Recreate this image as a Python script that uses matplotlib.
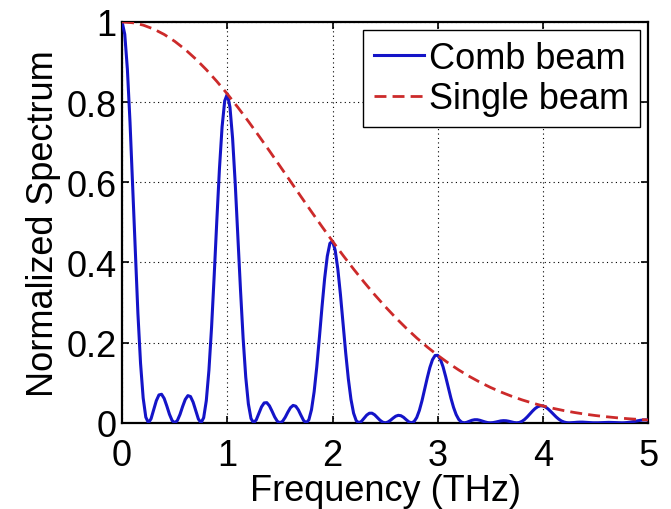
import numpy as np
import matplotlib
matplotlib.use("Agg")
import matplotlib.pyplot as plt

# comb beam spectrum, sampled every 0.025 THz from 0 to 5 THz
comb_values = [
    1.0, 0.9694, 0.8820, 0.7498, 0.5908, 0.4255, 0.2731, 0.1489, 0.0620, 0.0141,
    0.0, 0.0101, 0.0324, 0.0551, 0.0695, 0.0712, 0.0606, 0.0418, 0.0212, 0.0057,
    0.0, 0.0057, 0.0208, 0.0406, 0.0582, 0.0678, 0.0655, 0.0514, 0.0299, 0.0093,
    0.0, 0.0126, 0.0551, 0.1309, 0.2377, 0.3667, 0.5043, 0.6337, 0.7380, 0.8031,
    0.8204, 0.7874, 0.7094, 0.5971, 0.4659, 0.3322, 0.2111, 0.1140, 0.0470, 0.0106,
    0.0, 0.0075, 0.0236, 0.0398, 0.0496, 0.0503, 0.0424, 0.0290, 0.0146, 0.0039,
    0.0, 0.0038, 0.0137, 0.0265, 0.0377, 0.0434, 0.0415, 0.0323, 0.0186, 0.0057,
    0.0, 0.0076, 0.0329, 0.0775, 0.1393, 0.2128, 0.2897, 0.3604, 0.4156, 0.4479,
    0.4529, 0.4305, 0.3839, 0.3200, 0.2472, 0.1745, 0.1098, 0.0587, 0.0240, 0.0053,
    0.0, 0.0037, 0.0116, 0.0193, 0.0239, 0.0240, 0.0200, 0.0135, 0.0067, 0.0018,
    0.0, 0.0017, 0.0061, 0.0116, 0.0164, 0.0187, 0.0177, 0.0137, 0.0078, 0.0024,
    0.0, 0.0031, 0.0132, 0.0308, 0.0549, 0.0831, 0.1119, 0.1380, 0.1575, 0.1680,
    0.1683, 0.1584, 0.1399, 0.1154, 0.0883, 0.0617, 0.0385, 0.0204, 0.0082, 0.0018,
    0.0, 0.0012, 0.0038, 0.0063, 0.0077, 0.0077, 0.0063, 0.0042, 0.0021, 0.0005,
    0.0, 0.0005, 0.0018, 0.0034, 0.0048, 0.0054, 0.0051, 0.0039, 0.0022, 0.0007,
    0.0, 0.0008, 0.0036, 0.0083, 0.0146, 0.0218, 0.0291, 0.0355, 0.0401, 0.0425,
    0.0421, 0.0393, 0.0343, 0.0280, 0.0213, 0.0147, 0.0091, 0.0047, 0.0019, 0.0004,
    0.0, 0.0003, 0.0008, 0.0014, 0.0017, 0.0017, 0.0014, 0.0009, 0.0004, 0.0001,
    0.0, 0.0001, 0.0004, 0.0007, 0.0010, 0.0011, 0.0010, 0.0007, 0.0004, 0.0001,
    0.0, 0.0002, 0.0007, 0.0015, 0.0026, 0.0038, 0.0051, 0.0062, 0.0069, 0.0072,
    0.0071,
]
comb_freq = np.linspace(0, 5, len(comb_values))

# single beam spectrum, every 0.1 THz
single_values = [
    1.0, 0.9980, 0.9921, 0.9823, 0.9688, 0.9517, 0.9312, 0.9075, 0.8810, 0.8518,
    0.8204, 0.7870, 0.7520, 0.7156, 0.6784, 0.6405, 0.6024, 0.5643, 0.5265, 0.4893,
    0.4529, 0.4176, 0.3835, 0.3508, 0.3196, 0.2901, 0.2622, 0.2361, 0.2117, 0.1891,
    0.1683, 0.1492, 0.1317, 0.1158, 0.1014, 0.0884, 0.0768, 0.0665, 0.0573, 0.0492,
    0.0421, 0.0359, 0.0304, 0.0257, 0.0216, 0.0181, 0.0152, 0.0126, 0.0104, 0.0086,
    0.0071,
]
single_freq = np.linspace(0, 5, len(single_values))

x_ticks = [0, 1, 2, 3, 4, 5]
y_ticks = [0, 0.2, 0.4, 0.6, 0.8, 1.0]
y_tick_labels = ["0", "0.2", "0.4", "0.6", "0.8", "1"]

plt.rcParams["font.family"] = ["Liberation Sans", "DejaVu Sans"]

fig = plt.figure(figsize=(6.71, 5.10), dpi=100)
ax = fig.add_axes([0.182, 0.169, 0.784, 0.786])

ax.plot(comb_freq, comb_values, color="#1414c8", lw=2.2, label="Comb beam", zorder=3)
ax.plot(single_freq, single_values, color="#cc2a2a", lw=2.0, linestyle=(0, (4.3, 2.2)),
        label="Single beam", zorder=4)

ax.set_xlim(0, 5)
ax.set_ylim(0, 1)
ax.set_xticks(x_ticks)
ax.set_yticks(y_ticks)
ax.set_yticklabels(y_tick_labels)
ax.grid(True, color="black", linestyle=(0, (1, 3)), lw=0.8)
ax.tick_params(direction="in", length=5, width=1.2, top=True, right=True,
               labelsize=26, pad=4)
ax.tick_params(axis="x", pad=11)
for sp in ax.spines.values():
    sp.set_linewidth(1.6)

ax.set_xlabel("Frequency (THz)", fontsize=26, labelpad=0)
ax.set_ylabel("Normalized Spectrum", fontsize=26, labelpad=4)

leg = ax.legend(loc="upper right", fontsize=26, handlelength=1.4, handletextpad=0.14,
                borderpad=0.3, labelspacing=0.15, borderaxespad=0.22, fancybox=False,
                framealpha=1)
leg.get_frame().set_edgecolor("black")
leg.get_frame().set_linewidth(1.0)

fig.savefig("out.png", dpi=100)
